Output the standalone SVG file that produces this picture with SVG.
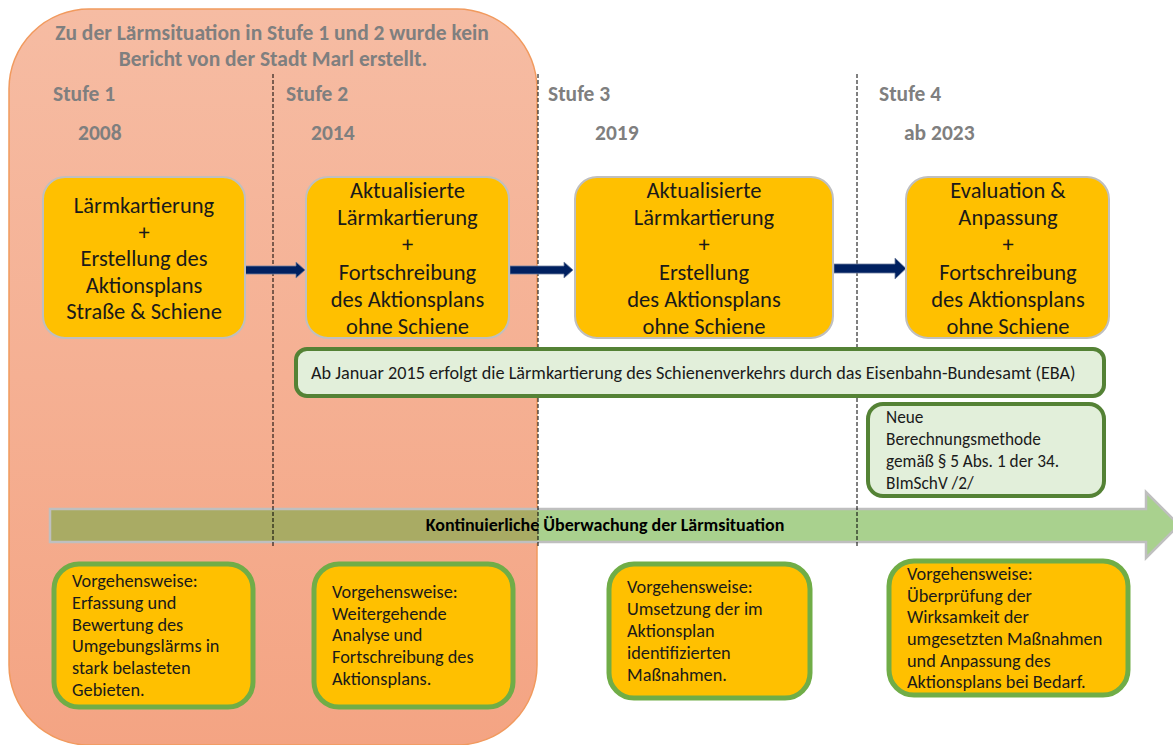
<svg xmlns="http://www.w3.org/2000/svg" width="1173" height="745" viewBox="0 0 1173 745">
<defs>
<linearGradient id="bgGrad" x1="0" y1="0" x2="0" y2="1">
<stop offset="0" stop-color="#F6BCA3"/>
<stop offset="1" stop-color="#F4A483"/>
</linearGradient>
<style>
.head{font-family:Carlito,Lato,"Liberation Sans",sans-serif;font-weight:bold;fill:#7F7F7F;font-size:21.5px}
.top{fill:#FFC000;stroke:#BFBFBF;stroke-width:2}
.toptxt{font-family:Carlito,Lato,"Liberation Sans",sans-serif;font-size:22.5px;fill:#1a1a1a;text-anchor:middle}
.bot{fill:#FFC000;stroke:#70AD47;stroke-width:5}
.bottxt{font-family:Carlito,Lato,"Liberation Sans",sans-serif;font-size:18.3px;fill:#1a1a1a}
.note{fill:#E2EFDA;stroke:#548235;stroke-width:4}
.notetxt{font-family:Carlito,Lato,"Liberation Sans",sans-serif;font-size:17.3px;fill:#1a1a1a}
.dash{stroke:#000;stroke-width:1;stroke-dasharray:4 2;fill:none}
.nav{fill:#002060;stroke:#6F7F9F;stroke-width:0.8}
</style>
</defs>
<g id="background">
<rect x="9" y="9" width="528" height="736" rx="80" ry="80" fill="url(#bgGrad)" stroke="#F19A5E" stroke-width="1.5"/>
<text class="head" x="272" y="40" text-anchor="middle">Zu der Lärmsituation in Stufe 1 und 2 wurde kein</text>
<text class="head" x="273" y="66" text-anchor="middle">Bericht von der Stadt Marl erstellt.</text>
</g>
<g id="monitoring-arrow">
<polygon points="50,509 1146,509 1146,492 1179,525 1146,558 1146,542 50,542" fill="#A9D18E"/>
<rect x="50" y="509" width="488" height="33" fill="#A9AB64"/>
<polygon points="50,509 1146,509 1146,492 1179,525 1146,558 1146,542 50,542" fill="none" stroke="#BFBFBF" stroke-width="2.5"/>
<text x="605" y="531" text-anchor="middle" style="font-family:Carlito,Lato,'Liberation Sans',sans-serif;font-weight:bold;font-size:18px;fill:#000">Kontinuierliche Überwachung der Lärmsituation</text>
</g>
<g id="dividers">
<line class="dash" x1="273" y1="74" x2="273" y2="548"/>
<line class="dash" x1="538" y1="74" x2="538" y2="548"/>
<line class="dash" x1="857" y1="74" x2="857" y2="548"/>
</g>
<g id="stufe1-label">
<text class="head" x="53" y="101">Stufe 1</text>
<text class="head" x="78" y="140">2008</text>
</g>
<g id="stufe2-label">
<text class="head" x="286" y="101">Stufe 2</text>
<text class="head" x="311" y="140">2014</text>
</g>
<g id="stufe3-label">
<text class="head" x="548" y="101">Stufe 3</text>
<text class="head" x="595" y="140">2019</text>
</g>
<g id="stufe4-label">
<text class="head" x="879" y="101">Stufe 4</text>
<text class="head" x="904" y="140">ab 2023</text>
</g>
<g id="connectors">
<polygon class="nav" points="245,266 296,266 296,262 305,270 296,278 296,274 245,274"/>
<polygon class="nav" points="510,266 564,266 564,262 573,270 564,278 564,274 510,274"/>
<polygon class="nav" points="834,264 895,264 895,258 906,268.5 895,279 895,273 834,273"/>
</g>
<g id="box-stufe1">
<rect class="top" x="43" y="177" width="202" height="161" rx="22"/>
<text class="toptxt" x="144" y="213">Lärmkartierung</text>
<text class="toptxt" x="144" y="240">+</text>
<text class="toptxt" x="144" y="266">Erstellung des</text>
<text class="toptxt" x="144" y="293">Aktionsplans</text>
<text class="toptxt" x="144" y="319">Straße &amp; Schiene</text>
</g>
<g id="box-stufe2">
<rect class="top" x="306" y="177" width="203" height="161" rx="22"/>
<text class="toptxt" x="407.5" y="198">Aktualisierte</text>
<text class="toptxt" x="407.5" y="225">Lärmkartierung</text>
<text class="toptxt" x="407.5" y="252">+</text>
<text class="toptxt" x="407.5" y="280">Fortschreibung</text>
<text class="toptxt" x="407.5" y="307">des Aktionsplans</text>
<text class="toptxt" x="407.5" y="334">ohne Schiene</text>
</g>
<g id="box-stufe3">
<rect class="top" x="575" y="177" width="258" height="161" rx="22"/>
<text class="toptxt" x="704" y="198">Aktualisierte</text>
<text class="toptxt" x="704" y="225">Lärmkartierung</text>
<text class="toptxt" x="704" y="252">+</text>
<text class="toptxt" x="704" y="280">Erstellung</text>
<text class="toptxt" x="704" y="307">des Aktionsplans</text>
<text class="toptxt" x="704" y="334">ohne Schiene</text>
</g>
<g id="box-stufe4">
<rect class="top" x="906" y="177" width="203" height="161" rx="22"/>
<text class="toptxt" x="1008" y="198">Evaluation &amp;</text>
<text class="toptxt" x="1008" y="225">Anpassung</text>
<text class="toptxt" x="1008" y="252">+</text>
<text class="toptxt" x="1008" y="280">Fortschreibung</text>
<text class="toptxt" x="1008" y="307">des Aktionsplans</text>
<text class="toptxt" x="1008" y="334">ohne Schiene</text>
</g>
<g id="note-eba">
<rect class="note" x="296" y="349" width="808" height="47" rx="11"/>
<text class="notetxt" x="311" y="379" style="font-size:18.2px">Ab Januar 2015 erfolgt die Lärmkartierung des Schienenverkehrs durch das Eisenbahn-Bundesamt (EBA)</text>
</g>
<g id="note-method">
<rect class="note" x="868" y="404" width="236" height="92" rx="15"/>
<text class="notetxt" x="886" y="423">Neue</text>
<text class="notetxt" x="886" y="445">Berechnungsmethode</text>
<text class="notetxt" x="886" y="467">gemäß § 5 Abs. 1 der 34.</text>
<text class="notetxt" x="886" y="489">BImSchV /2/</text>
</g>
<g id="procedure-stufe1">
<rect class="bot" x="54" y="564" width="199" height="143" rx="25"/>
<text class="bottxt" x="72" y="587">Vorgehensweise:</text>
<text class="bottxt" x="72" y="609">Erfassung und</text>
<text class="bottxt" x="72" y="630.5">Bewertung des</text>
<text class="bottxt" x="72" y="652">Umgebungslärms in</text>
<text class="bottxt" x="72" y="674">stark belasteten</text>
<text class="bottxt" x="72" y="696">Gebieten.</text>
</g>
<g id="procedure-stufe2">
<rect class="bot" x="314" y="564" width="199" height="143" rx="25"/>
<text class="bottxt" x="332" y="598">Vorgehensweise:</text>
<text class="bottxt" x="332" y="620">Weitergehende</text>
<text class="bottxt" x="332" y="641">Analyse und</text>
<text class="bottxt" x="332" y="663">Fortschreibung des</text>
<text class="bottxt" x="332" y="685">Aktionsplans.</text>
</g>
<g id="procedure-stufe3">
<rect class="bot" x="609" y="564" width="201" height="134" rx="25"/>
<text class="bottxt" x="627" y="593">Vorgehensweise:</text>
<text class="bottxt" x="627" y="615">Umsetzung der im</text>
<text class="bottxt" x="627" y="637">Aktionsplan</text>
<text class="bottxt" x="627" y="659">identifizierten</text>
<text class="bottxt" x="627" y="681">Maßnahmen.</text>
</g>
<g id="procedure-stufe4">
<rect class="bot" x="889" y="561" width="239" height="134" rx="25"/>
<text class="bottxt" x="907" y="580">Vorgehensweise:</text>
<text class="bottxt" x="907" y="602">Überprüfung der</text>
<text class="bottxt" x="907" y="623">Wirksamkeit der</text>
<text class="bottxt" x="907" y="645">umgesetzten Maßnahmen</text>
<text class="bottxt" x="907" y="667">und Anpassung des</text>
<text class="bottxt" x="907" y="688">Aktionsplans bei Bedarf.</text>
</g>
</svg>
